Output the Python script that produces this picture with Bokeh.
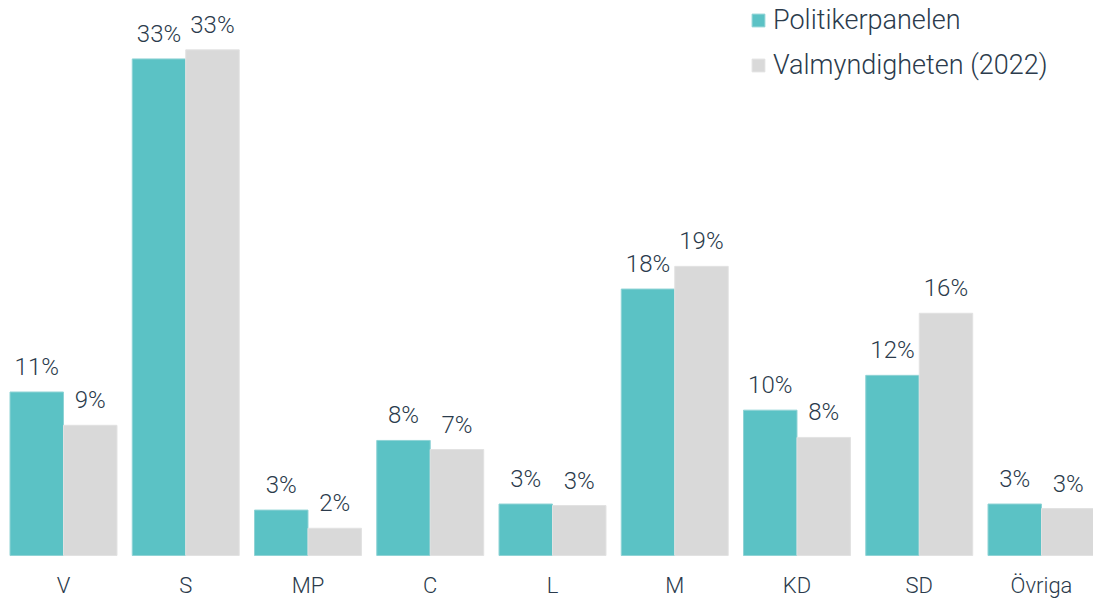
from bokeh.plotting import figure
from bokeh.models import ColumnDataSource, Range1d, Legend, LegendItem
from bokeh.core.properties import value
from bokeh.embed import file_html
from bokeh.resources import INLINE

categories = ["V", "S", "MP", "C", "L", "M", "KD", "SD", "Övriga"]
politikerpanelen = [10.8, 32.8, 3.0, 7.6, 3.4, 17.6, 9.6, 11.9, 3.4]
valmyndigheten = [8.6, 33.4, 1.8, 7.0, 3.3, 19.1, 7.8, 16.0, 3.1]
series_names = ["Politikerpanelen", "Valmyndigheten (2022)"]

TEAL = "#5bc2c5"
GREY = "#d9d9d9"
TXT = "#2b3b4c"
FONT = "Roboto Light, Roboto"

BW = 0.4375
xs = list(range(len(categories)))

src = ColumnDataSource(dict(
    x1=[x - BW / 2 for x in xs],
    x2=[x + BW / 2 for x in xs],
    xc=xs,
    cat=categories,
    v1=politikerpanelen,
    v2=valmyndigheten,
    l1=[f"{v:.0f}%" for v in politikerpanelen],
    l2=[f"{v:.0f}%" for v in valmyndigheten],
    zero=[0] * len(categories),
))

p = figure(width=1093, height=598, output_backend="svg", toolbar_location=None,
           x_range=Range1d(-0.5153, 8.4254), y_range=Range1d(-2.840, 36.66),
           x_axis_location=None, y_axis_location=None,
           min_border_left=0, min_border_right=0, min_border_top=0, min_border_bottom=0)
p.outline_line_color = None
p.grid.visible = False
p.background_fill_color = "white"
p.border_fill_color = "white"

r1 = p.vbar(x="x1", top="v1", bottom=0, width=BW, source=src,
            fill_color=TEAL, line_color="#8fd3d5", line_width=1)
r2 = p.vbar(x="x2", top="v2", bottom=0, width=BW, source=src,
            fill_color=GREY, line_color="#e2e2e2", line_width=1)

p.text(x="x1", y="v1", text="l1", source=src, y_offset=-25,
       text_align="center", text_baseline="middle",
       text_font=value(FONT), text_font_size="24px", text_color=TXT)
p.text(x="x2", y="v2", text="l2", source=src, y_offset=-25,
       text_align="center", text_baseline="middle",
       text_font=value(FONT), text_font_size="24px", text_color=TXT)

# category labels
p.text(x="xc", y="zero", text="cat", source=src, y_offset=30,
       text_align="center", text_baseline="middle",
       text_font=value(FONT), text_font_size="22px", text_color=TXT)

legend = Legend(items=[LegendItem(label=series_names[0], renderers=[r1]),
                       LegendItem(label=series_names[1], renderers=[r2])],
                location=(750, 517))
legend.glyph_width = 16
legend.glyph_height = 16
legend.label_standoff = 7
legend.label_text_font = FONT
legend.label_text_font_size = "27px"
legend.label_text_color = TXT
legend.padding = 0
legend.margin = 0
legend.spacing = 13
legend.border_line_color = None
legend.background_fill_alpha = 0
p.add_layout(legend)

open("out.html", "w").write(file_html(p, INLINE))
